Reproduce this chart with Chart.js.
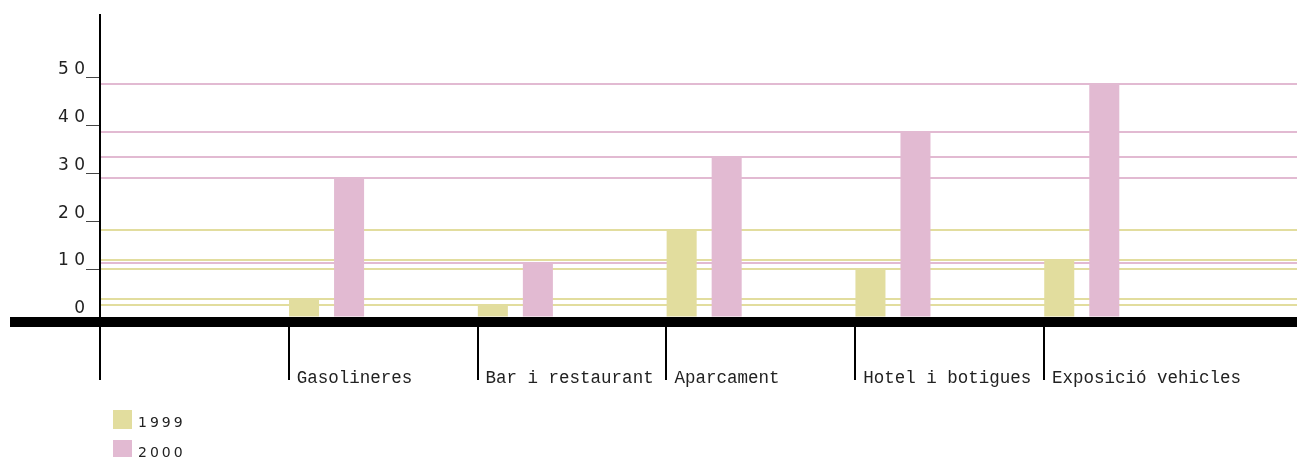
<!DOCTYPE html>
<html>
<head>
<meta charset="utf-8">
<script src="https://cdn.jsdelivr.net/npm/chart.js@4"></script>
<style>
  body { margin: 0; background: #fff; }
  #wrap { position: relative; width: 1297px; height: 457px; }
  #legend { position: absolute; left: 113px; top: 410px; font: 14px "DejaVu Sans"; color: #222; }
  .item { display: flex; height: 19px; margin-bottom: 11px; }
  .swatch { width: 19px; height: 19px; margin-right: 6px; }
  .item span { letter-spacing: 3px; line-height: 19px; padding-top: 3px; }
</style>
</head>
<body>
<div id="wrap">
  <canvas id="chart"></canvas>
  <div id="legend"></div>
</div>
<script>
const categories = ["", "Gasolineres", "Bar i restaurant", "Aparcament", "Hotel i botigues", "Exposició vehicles"];
const values1999 = [null, 3.7, 2.6, 18.1, 10.1, 11.9];
const values2000 = [null, 29.0, 11.3, 33.3, 38.5, 48.7];
const yTicks = [0, 10, 20, 30, 40, 50];
const seriesLabels = ["1999", "2000"];
const seriesColors = ["#e2dd9e", "#e2bad2"];

const allSeries = [values1999, values2000];

// one coloured line across the plot at the top of every bar
let lineTicks = [];
let lineColors = [];
allSeries.forEach((vals, s) => {
    vals.forEach(v => {
        if (v !== null) {
            lineTicks.push({ value: v });
            lineColors.push(seriesColors[s]);
        }
    });
});

const toPoints = (vals) => vals.map((v, i) => ({ x: i, y: v }));
const categoryTicks = (scale) => { scale.ticks = categories.map((c, i) => ({ value: i })); };

const baseline = {
    id: "baseline",
    afterDatasetsDraw(chart) {
        const ctx = chart.ctx;
        const y0 = chart.scales.y.getPixelForValue(0);
        ctx.save();
        ctx.fillStyle = "#000";
        ctx.fillRect(10, y0, chart.width - 10, 10);
        ctx.restore();
    }
};

const ctx = document.getElementById("chart").getContext("2d");
new Chart(ctx, {
    type: "bar",
    data: {
        datasets: allSeries.map((vals, s) => ({
            label: seriesLabels[s],
            data: toPoints(vals),
            backgroundColor: seriesColors[s],
            xAxisID: "xb",
            yAxisID: "y",
            categoryPercentage: 0.477,
            barPercentage: 0.667
        }))
    },
    options: {
        responsive: true,
        maintainAspectRatio: false,
        animation: false,
        layout: { padding: { top: 15, left: 0, right: 0, bottom: 0 } },
        plugins: {
            legend: { display: false },
            tooltip: { enabled: false }
        },
        scales: {
            x: {
                type: "linear",
                position: "bottom",
                offset: false,
                min: 0,
                max: 6.34,
                afterBuildTicks: categoryTicks,
                afterFit: (scale) => { scale.height = 140; },
                grid: { offset: false, drawOnChartArea: false, drawTicks: true, tickLength: 63, color: "#000", lineWidth: 2 },
                border: { display: false },
                ticks: {
                    autoSkip: false,
                    maxRotation: 0,
                    minRotation: 0,
                    align: "start",
                    labelOffset: 8,
                    padding: -12,
                    color: "#222",
                    font: { family: "Liberation Mono", size: 17.5 },
                    callback: (v) => categories[v]
                }
            },
            xb: {
                type: "linear",
                display: false,
                offset: false,
                grid: { offset: false },
                min: -0.2,
                max: 6.14,
                afterBuildTicks: categoryTicks
            },
            y: {
                position: "left",
                min: 0,
                max: 63,
                afterBuildTicks: (scale) => { scale.ticks = yTicks.map(v => ({ value: v })); },
                afterFit: (scale) => { scale.width = 100; },
                grid: { drawOnChartArea: false, drawTicks: true, tickLength: 14, color: "#444", lineWidth: 1 },
                border: { display: true, color: "#000", width: 2 },
                ticks: {
                    padding: 1,
                    labelOffset: -8,
                    color: "#222",
                    font: { family: "DejaVu Sans", size: 17 },
                    callback: (v) => String(v).split("").join(" ")
                }
            },
            yl: {
                position: "left",
                min: 0,
                max: 63,
                afterBuildTicks: (scale) => { scale.ticks = lineTicks.slice(); },
                afterFit: (scale) => { scale.width = 0; },
                grid: {
                    drawOnChartArea: true,
                    drawTicks: false,
                    lineWidth: 2,
                    color: (c) => lineColors[c.index]
                },
                border: { display: false },
                ticks: { display: false, autoSkip: false }
            }
        }
    },
    plugins: [baseline]
});

// legend, stacked under the axis
const legend = document.getElementById("legend");
seriesLabels.forEach((label, s) => {
    const item = document.createElement("div");
    item.className = "item";
    item.innerHTML = `<div class="swatch" style="background:${seriesColors[s]}"></div><span>${label}</span>`;
    legend.appendChild(item);
});
</script>
</body>
</html>
